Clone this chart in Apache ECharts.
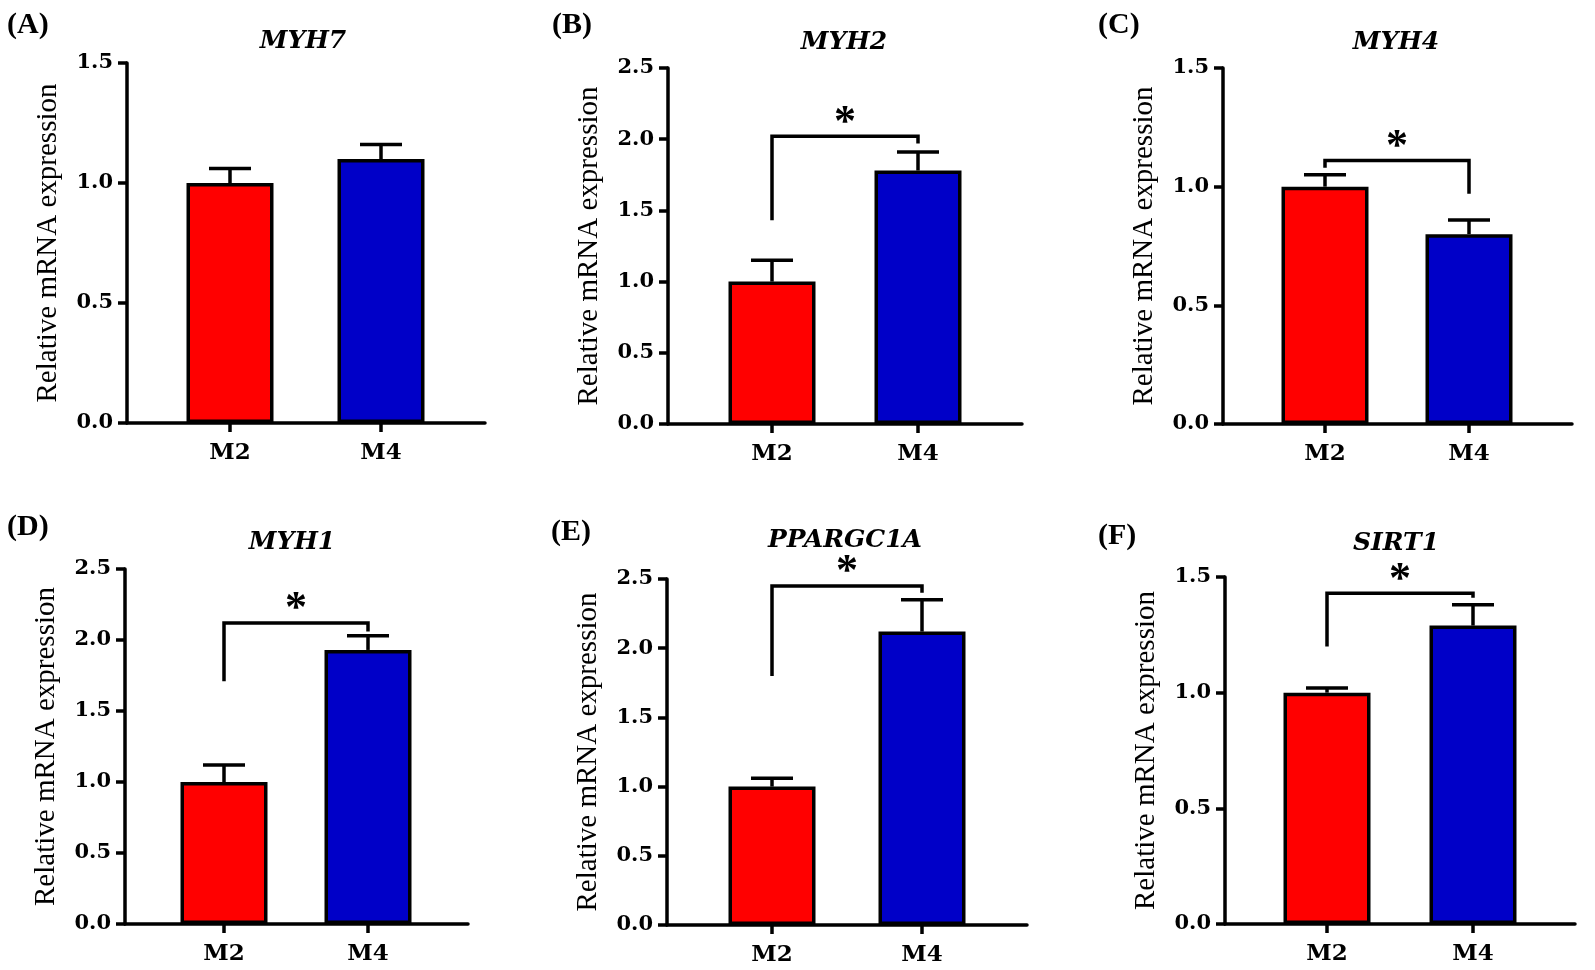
<!DOCTYPE html>
<html><head><meta charset="utf-8">
<script src="https://cdn.jsdelivr.net/npm/echarts@6/dist/echarts.min.js"></script>
<style>html,body{margin:0;padding:0;background:#fff}#c{width:1595px;height:970px}</style>
</head><body><div id="c"></div>
<script>
// ---------- data ----------
const panelLetters = ['(A)', '(B)', '(C)', '(D)', '(E)', '(F)'];
const genes = ['MYH7', 'MYH2', 'MYH4', 'MYH1', 'PPARGC1A', 'SIRT1'];
const categories = ['M2', 'M4'];
const yAxisTitle = 'Relative mRNA expression';
const yMax = [1.5, 2.5, 1.5, 2.5, 2.5, 1.5];
const yTickStep = 0.5;
const meanM2 = [1.00, 1.00, 1.00, 1.00, 1.00, 1.00];
const meanM4 = [1.10, 1.78, 0.80, 1.93, 2.12, 1.29];
const upperM2 = [1.06, 1.15, 1.05, 1.12, 1.06, 1.02];
const upperM4 = [1.16, 1.91, 0.86, 2.03, 2.35, 1.38];
// significance brackets (null = none)
const bracketTop = [null, 2.02, 1.11, 2.12, 2.45, 1.43];
const bracketLeftEnd = [null, 1.43, 1.08, 1.71, 1.80, 1.20];
const bracketRightEnd = [null, 1.97, 0.97, 2.06, 2.40, 1.41];
const sigLabel = [null, '*', '*', '*', '*', '*'];

// ---------- layout (pixels) ----------
const layout = [
  { left: 127, top: 63, width: 358, height: 360, c1: 230, c2: 381, title: [303, 41], letter: [7, 25] },
  { left: 668, top: 68, width: 354, height: 356, c1: 772, c2: 918, title: [844, 42], letter: [552, 25] },
  { left: 1223, top: 68, width: 349, height: 356, c1: 1325, c2: 1469, title: [1396, 42], letter: [1098, 25] },
  { left: 125, top: 569, width: 343, height: 355, c1: 224, c2: 368, title: [292, 542], letter: [7, 527] },
  { left: 667, top: 579, width: 360, height: 346, c1: 772, c2: 922, title: [845, 540], letter: [551, 532] },
  { left: 1225, top: 577, width: 350, height: 347, c1: 1327, c2: 1473, title: [1396, 543], letter: [1098, 536] }
];

const RED = '#FF0000', BLUE = '#0000C8', BLACK = '#000000';
const LW = 3.5;
const tickFont = '"DejaVu Serif"';

const grid = [], xAxis = [], yAxis = [], series = [], graphic = [];

layout.forEach((L, i) => {
  const sp = L.c2 - L.c1;
  const xMin = 1 - (L.c1 - L.left) / sp;
  const xMax = xMin + L.width / sp;
  grid.push({ left: L.left, top: L.top, width: L.width, height: L.height, containLabel: false });
  xAxis.push({
    gridIndex: i, type: 'value', min: xMin, max: xMax,
    axisLine: { show: true, onZero: false, lineStyle: { color: BLACK, width: LW } },
    axisTick: { show: true, customValues: [1, 2], length: 9, lineStyle: { color: BLACK, width: LW } },
    axisLabel: {
      show: true, customValues: [1, 2], margin: 19,
      formatter: v => categories[Math.round(v) - 1] || '',
      color: BLACK, fontFamily: tickFont, fontWeight: 'bold', fontSize: 23
    },
    splitLine: { show: false }
  });
  yAxis.push({
    gridIndex: i, type: 'value', min: 0, max: yMax[i], interval: yTickStep,
    name: yAxisTitle, nameLocation: 'middle', nameGap: 64,
    nameTextStyle: { color: BLACK, fontFamily: '"Liberation Serif"', fontSize: 29, fontWeight: 'normal' },
    axisLine: { show: true, lineStyle: { color: BLACK, width: LW } },
    axisTick: { show: true, length: 9, lineStyle: { color: BLACK, width: LW } },
    axisLabel: {
      margin: 14, formatter: v => v.toFixed(1),
      color: BLACK, fontFamily: tickFont, fontWeight: 'bold', fontSize: 21
    },
    splitLine: { show: false }
  });
  series.push({
    type: 'bar', xAxisIndex: i, yAxisIndex: i, barWidth: 87,
    itemStyle: { borderColor: BLACK, borderWidth: LW },
    data: [
      { value: [1, meanM2[i]], itemStyle: { color: RED } },
      { value: [2, meanM4[i]], itemStyle: { color: BLUE } }
    ],
    z: 3
  });
  series.push({
    type: 'custom', xAxisIndex: i, yAxisIndex: i, z: 4,
    encode: { x: 0, y: [1, 2] },
    data: [[1, meanM2[i], upperM2[i]], [2, meanM4[i], upperM4[i]]],
    renderItem: (params, api) => {
      const x = api.value(0), m = api.value(1), u = api.value(2);
      const p0 = api.coord([x, m]), p1 = api.coord([x, u]);
      return {
        type: 'group', children: [
          { type: 'line', shape: { x1: p0[0], y1: p0[1], x2: p1[0], y2: p1[1] }, style: { stroke: BLACK, lineWidth: LW } },
          { type: 'line', shape: { x1: p1[0] - 21, y1: p1[1], x2: p1[0] + 21, y2: p1[1] }, style: { stroke: BLACK, lineWidth: LW } }
        ]
      };
    }
  });
  if (bracketTop[i] !== null) {
    series.push({
      type: 'custom', xAxisIndex: i, yAxisIndex: i, z: 5,
      encode: { x: [0, 1], y: [2, 3, 4] },
      data: [[1, 2, bracketTop[i], bracketLeftEnd[i], bracketRightEnd[i]]],
      renderItem: (params, api) => {
        const a = api.coord([api.value(0), api.value(3)]);
        const b = api.coord([api.value(0), api.value(2)]);
        const c = api.coord([api.value(1), api.value(2)]);
        const d = api.coord([api.value(1), api.value(4)]);
        return {
          type: 'group', children: [
            { type: 'polyline', shape: { points: [a, b, c, d] }, style: { stroke: BLACK, lineWidth: LW, fill: null } },
            { type: 'text', style: { text: sigLabel[i], x: (b[0] + c[0]) / 2, y: b[1] - 13, align: 'center', verticalAlign: 'middle',
              font: 'bold 44px "Liberation Serif"', fill: BLACK } }
          ]
        };
      }
    });
  }
  graphic.push({
    type: 'text', x: L.title[0], y: L.title[1],
    style: { text: genes[i], align: 'center', verticalAlign: 'middle', font: 'italic bold 25px "DejaVu Serif"', fill: BLACK }
  });
  graphic.push({
    type: 'text', x: L.letter[0], y: L.letter[1],
    style: { text: panelLetters[i], align: 'left', verticalAlign: 'middle', font: 'bold 30px "Liberation Serif"', fill: BLACK }
  });
});

const chart = echarts.init(document.getElementById('c'), null, { renderer: 'canvas' });
chart.setOption({ animation: false, backgroundColor: '#ffffff', grid, xAxis, yAxis, series, graphic });
</script></body></html>
